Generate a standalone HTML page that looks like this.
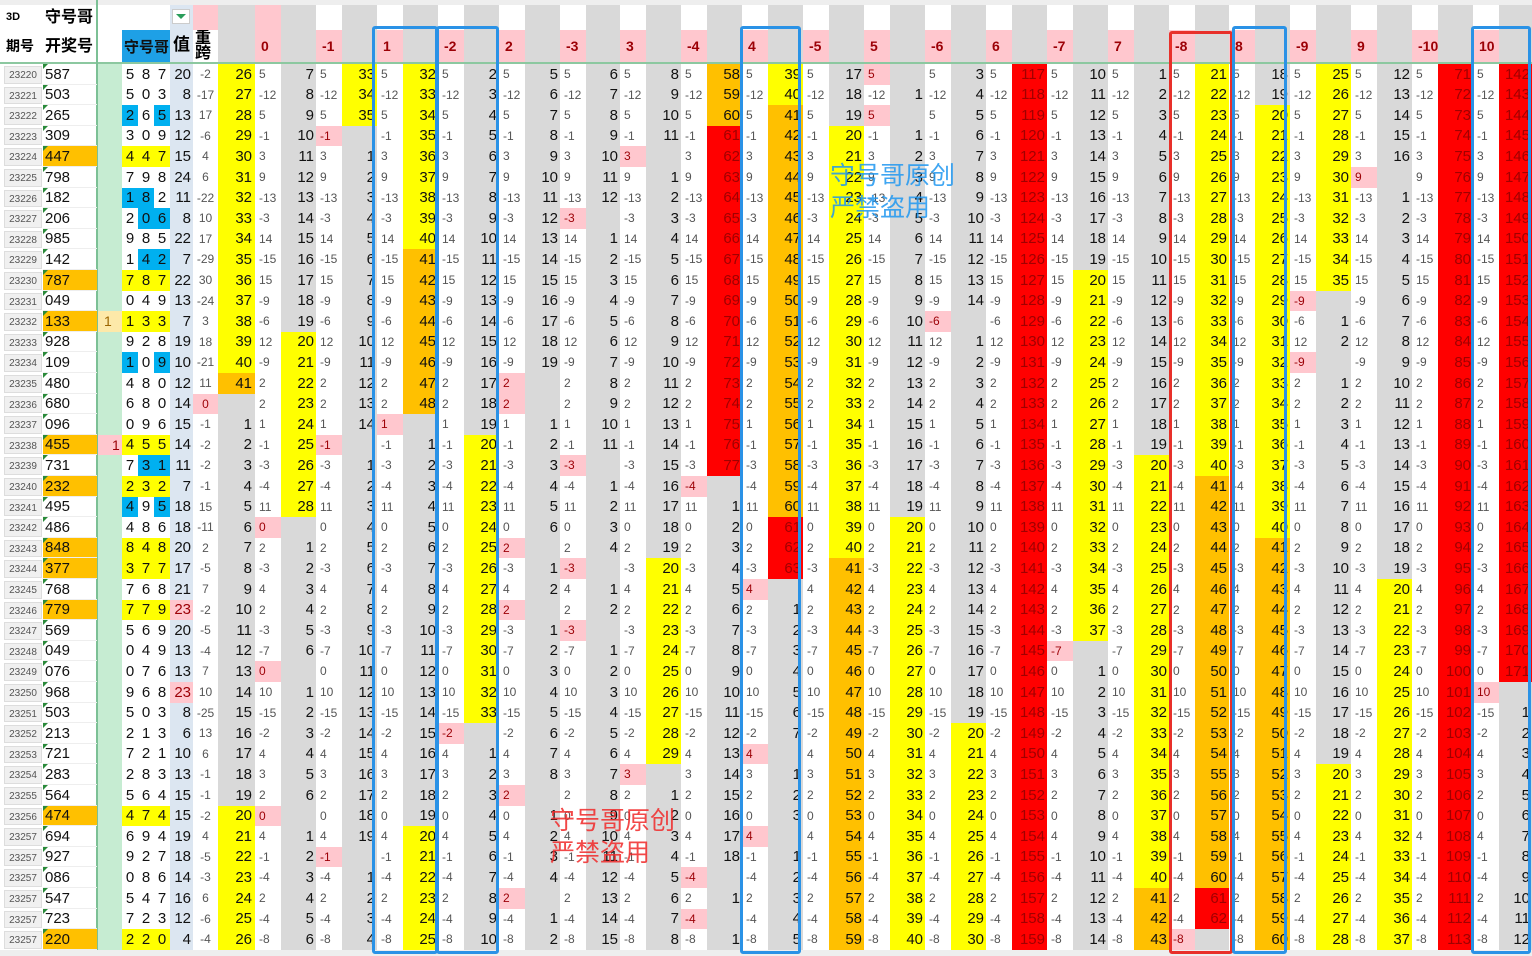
<!DOCTYPE html>
<html><head><meta charset="utf-8">
<style>
body{margin:0;background:#fff;}
#c{position:relative;width:1532px;height:956px;overflow:hidden;background:#fff;font-family:"Liberation Sans","Noto Sans CJK SC",sans-serif;}
.a{position:absolute;box-sizing:border-box;white-space:nowrap;overflow:hidden;}
.wm{position:absolute;font-family:"Noto Sans CJK SC","WenQuanYi Zen Hei",sans-serif;font-size:25px;line-height:32px;white-space:nowrap;}
</style></head><body><div id="c"></div>
<script>
var C=document.getElementById('c');
function box(x,y,w,h,bg,txt,st){var d=document.createElement('div');d.className='a';d.style.cssText='left:'+x+'px;top:'+y+'px;width:'+w+'px;height:'+h+'px;'+(bg?'background:'+bg+';':'')+(st||'');if(txt!==undefined&&txt!==null)d.textContent=txt;C.appendChild(d);return d;}
var Y0=64,RH=20.6,N=43;
var per=[];for(var i=0;i<37;i++)per.push(23220+i);for(i=0;i<6;i++)per.push(23257);
var nums="587,503,265,309,447,798,182,206,985,142,787,049,133,928,109,480,680,096,455,731,232,495,486,848,377,768,779,569,049,076,968,503,213,721,283,564,474,694,927,086,547,723,220".split(',');
var d=[5,-12,5,-1,3,9,-13,-3,14,-15,15,-9,-6,12,-9,2,2,1,-1,-3,-4,11,0,2,-3,4,2,-3,-7,0,10,-15,-2,4,3,2,0,4,-1,-4,2,-4,-8];
var kua=[-2,-17,17,-6,4,6,-22,10,17,-29,30,-24,3,18,-21,11,0,-1,-2,-2,-1,15,-11,2,-5,7,-2,-5,-4,7,10,-25,13,6,-1,-1,-2,4,-5,-3,6,-6,-4];
var blue={2:[0,2],6:[0,1],7:[1,2],9:[1,2],14:[0,2],19:[1,2],21:[0,2]};
var labels=[0,-1,1,-2,2,-3,3,-4,4,-5,5,-6,6,-7,7,-8,8,-9,9,-10,10];
var init=[7,33,32,2,5,6,8,58,39,17,0,3,117,10,1,21,18,25,12,71,142];
function cbg(n){return n>60?'#ff0000':n>40?'#ffc000':n>=20?'#ffff00':'#d9d9d9';}
box(0,0,1532,5,'#eeeeee');
function wx(k){return Math.round(255+60.9*k);}
box(218,5,37,58,'#d9d9d9');
box(193,5,25,25,'#ffc7ce');
box(193,30,25,33,'#fff','重跨','font-weight:bold;font-size:16px;line-height:15px;padding:1px 0 0 2px;white-space:normal;width:25px;');
for(var k=0;k<21;k++){
  var x=wx(k),nx=(k<20?wx(k+1):1532);
  box(x+26,5,nx-x-26,58,'#d9d9d9');
  if(k==0)box(x,5,26,58,'#ffc7ce');
  box(x,30,26,33,'#ffc7ce',String(labels[k]),'color:#9c0006;font-weight:bold;font-size:14px;line-height:33px;padding-left:6px;');
}
box(0,5,42,25,null,'3D','font-weight:bold;font-size:11px;line-height:25px;padding-left:6px;');
box(42,5,55,25,null,'守号哥','font-weight:bold;font-size:16px;line-height:25px;padding-left:3px;');
box(0,30,42,33,null,'期号','font-weight:bold;font-size:14px;line-height:33px;padding-left:6px;');
box(42,30,55,33,null,'开奖号','font-weight:bold;font-size:16px;line-height:33px;padding-left:3px;');
box(97,5,25,58,'#ffffff');
box(122,30,48,33,'#1ea0e6','守号哥','font-weight:bold;font-size:15px;line-height:36px;padding-left:2px;color:#111;');
box(170,5,23,58,'#dce6f1');
box(172,9,18,15,'#fff',null,'border:1px solid #ccc;');
box(176,14,0,0,null,null,'border-left:5px solid transparent;border-right:5px solid transparent;border-top:5px solid #2a9d5a;');
box(170,28,23,34,null,'值','font-weight:bold;font-size:17px;line-height:34px;padding-left:3px;');
box(0,62,1532,2,'#8cc8a0');
box(97,64,25,886,'#c6ecd2');
box(170,64,23,886,'#dce6f1');
box(96,0,2,950,'#7cc095');
for(var i=0;i<N;i++){
  var y=Math.round(Y0+i*RH),h=Math.round(Y0+(i+1)*RH)-y;
  box(4,y+2,38,h-3,'#f0f0f0',String(per[i]),'font-size:10px;line-height:'+(h-3)+'px;text-align:center;color:#555;border:1px solid #ddd;');
  var s=nums[i],pair=(s[0]==s[1]||s[1]==s[2]||s[0]==s[2]);
  box(43,y,54,h,pair?'#ffc000':null,s,'font-size:15px;line-height:'+h+'px;padding-left:2px;color:#111;border-bottom:1px solid #eee;');
  box(43,y,0,0,null,null,'border-top:5px solid #2a8a3a;border-right:5px solid transparent;');
  if(i==12)box(98,y,24,h,'#fde9a9','1','color:#9c6500;font-size:14px;line-height:'+h+'px;padding-left:6px;');
  if(i==18)box(98,y,24,h,'#ffc7ce','1','color:#9c0006;font-size:14px;line-height:'+h+'px;padding-left:14px;');
  for(var j=0;j<3;j++){
    var bg=pair?'#ffff00':null; if(blue[i]&&blue[i].indexOf(j)>=0)bg='#00b0f0';
    box(122+j*16,y,16,h,bg,s[j],'font-size:15px;line-height:'+h+'px;text-align:center;color:#111;');
  }
  var sum=+s[0]+ +s[1]+ +s[2];
  box(170,y,23,h,sum==23?'#ffc7ce':null,String(sum),'font-size:15px;line-height:'+h+'px;text-align:right;padding-right:2px;color:'+(sum==23?'#9c0006':'#111')+';');
  var kz=kua[i]==0;
  box(193,y,25,h,kz?'#ffc7ce':null,String(kua[i]),'font-size:12px;line-height:'+h+'px;text-align:center;color:'+(kz?'#9c0006':'#555')+';');
}
(function(){var last=-1;for(var i=0;i<N;i++){var y=Math.round(Y0+i*RH),h=Math.round(Y0+(i+1)*RH)-y;
 if(kua[i]==0){last=i;box(218,y,37,h,'#d9d9d9');continue;} var n=last<0?26+i:i-last;
 box(218,y,37,h,cbg(n),String(n),'font-size:15px;line-height:'+h+'px;text-align:right;padding-right:3px;color:'+(n>60?'#a00000':'#111')+';');}})();
for(var k=0;k<21;k++){
  var x=wx(k),nx=(k<20?wx(k+1):1532),L=labels[k],last=-1;
  for(var i=0;i<N;i++){
    var y=Math.round(Y0+i*RH),h=Math.round(Y0+(i+1)*RH)-y;
    var hit=d[i]==L;
    box(x,y,26,h,hit?'#ffc7ce':null,String(d[i]),'font-size:12px;line-height:'+h+'px;padding-left:4px;color:'+(hit?'#9c0006':'#555')+';');
    if(hit){last=i;box(x+26,y,nx-x-26,h,'#d9d9d9');continue;}
    var n=last<0?init[k]+i:i-last;
    box(x+26,y,nx-x-26,h,cbg(n),String(n),'font-size:15px;line-height:'+h+'px;text-align:right;padding-right:2px;color:'+(n>60?'#a00000':'#111')+';');
  }
}
box(0,950,1532,6,'#eeeeee');
function ob(x,y,w,h,c){box(x,y,w,h,null,null,'border:3px solid '+c+';border-radius:3px;');}
ob(372,26,66,928,'#2a92e6');ob(436,26,63,928,'#2a92e6');ob(740,26,61,928,'#2a92e6');
ob(1169,31,64,923,'#e8302a');ob(1232,26,55,928,'#2a92e6');ob(1471,26,60,928,'#2a92e6');
var w1=document.createElement('div');w1.className='wm';w1.style.cssText+='left:830px;top:158px;color:rgba(30,150,240,0.85);';w1.innerHTML='守号哥原创<br>严禁盗用';C.appendChild(w1);
var w2=document.createElement('div');w2.className='wm';w2.style.cssText+='left:550px;top:803px;color:rgba(240,40,40,0.85);';w2.innerHTML='守号哥原创<br>严禁盗用';C.appendChild(w2);
</script></body></html>
